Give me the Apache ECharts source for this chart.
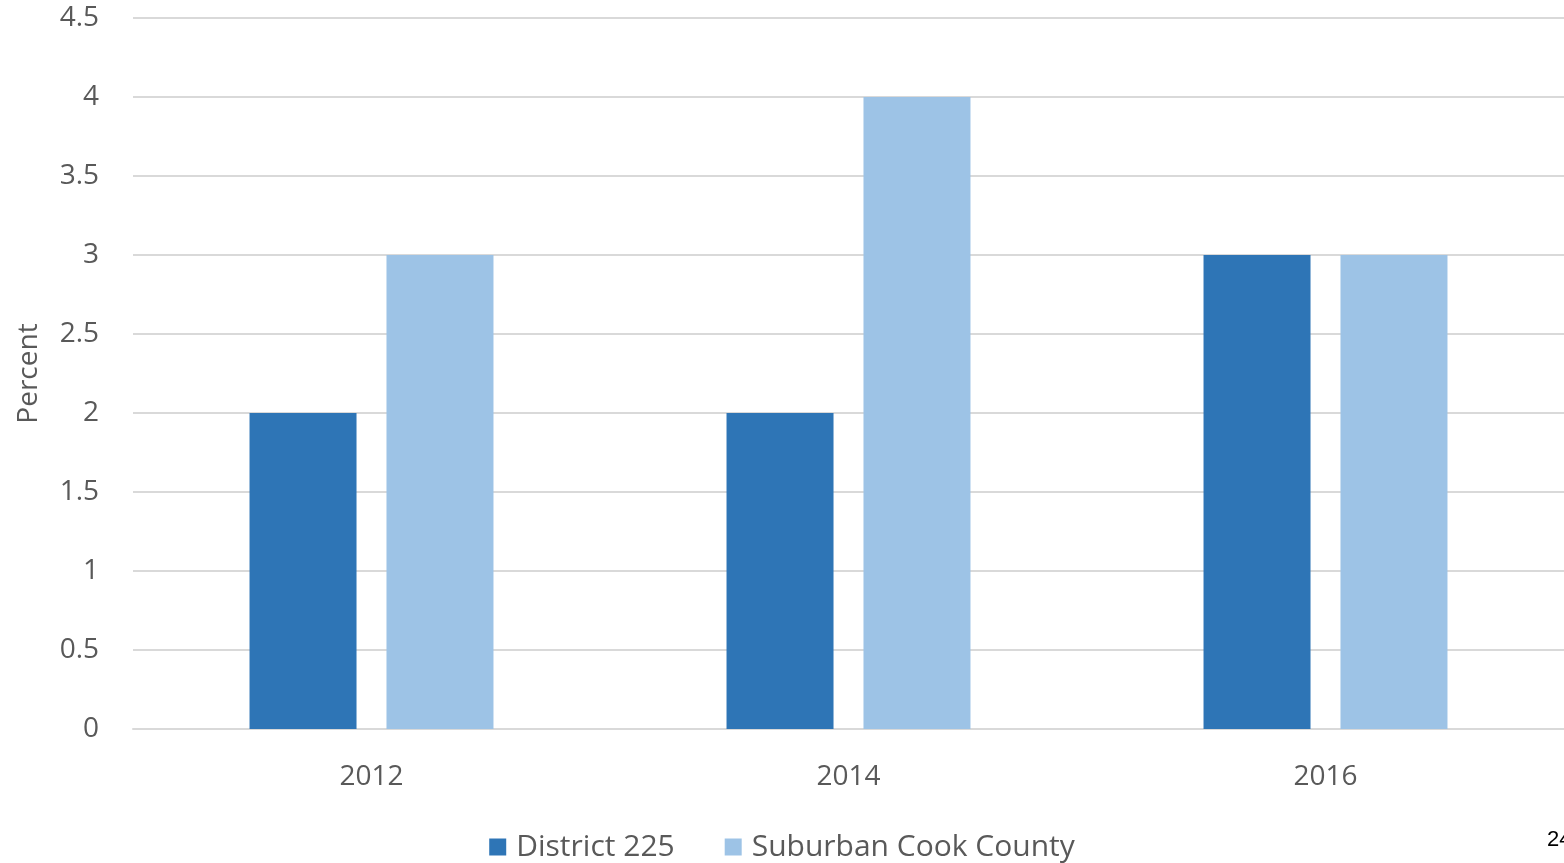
<!DOCTYPE html>
<html><head><meta charset="utf-8">
<script src="https://cdn.jsdelivr.net/npm/echarts@6/dist/echarts.min.js"></script>
<style>html,body{margin:0;padding:0;background:#fff;}#c{width:1564px;height:863px;}</style>
</head><body><div id="c"></div>
<script>
const categories = ['2012', '2014', '2016'];
const district225 = [2, 2, 3];
const suburbanCook = [3, 4, 3];
const seriesNames = ['District 225', 'Suburban Cook County'];
const yTicks = { min: 0, max: 4.5, interval: 0.5 };

const chart = echarts.init(document.getElementById('c'), null, { renderer: 'canvas' });
const font = '"Open Sans", "Noto Sans", sans-serif';
chart.setOption({
  animation: false,
  backgroundColor: '#ffffff',
  grid: { left: 133, right: -1, top: 18, bottom: 134, containLabel: false },
  legend: {
    bottom: -4, left: 'center', itemWidth: 17, itemHeight: 17, itemGap: 50,
    icon: 'rect',
    textStyle: { color: '#595959', fontSize: 30, fontFamily: font, padding: [0, 0, 0, 5] },
    data: seriesNames
  },
  xAxis: {
    type: 'category', data: categories,
    axisLine: { lineStyle: { color: '#d9d9d9', width: 2 } },
    axisTick: { show: false },
    axisLabel: { color: '#595959', fontSize: 28, fontFamily: font, margin: 34 }
  },
  yAxis: {
    type: 'value', min: yTicks.min, max: yTicks.max, interval: yTicks.interval,
    name: 'Percent', nameLocation: 'middle', nameGap: 90,
    nameTextStyle: { color: '#595959', fontSize: 28, fontFamily: font },
    axisLine: { show: false }, axisTick: { show: false },
    axisLabel: { color: '#595959', fontSize: 28, fontFamily: font, margin: 34 },
    splitLine: { lineStyle: { color: '#d9d9d9', width: 2 } }
  },
  series: [
    { name: seriesNames[0], type: 'bar', data: district225, barWidth: 107, barGap: '28%',
      itemStyle: { color: '#2E75B6' } },
    { name: seriesNames[1], type: 'bar', data: suburbanCook, barWidth: 107, barGap: '28%',
      itemStyle: { color: '#9DC3E6' } }
  ],
  graphic: [
    { type: 'text', left: 1547, top: 829, style: { text: '24', fill: '#000', font: '22px "Liberation Sans", Arial, sans-serif' } }
  ]
});
</script></body></html>
